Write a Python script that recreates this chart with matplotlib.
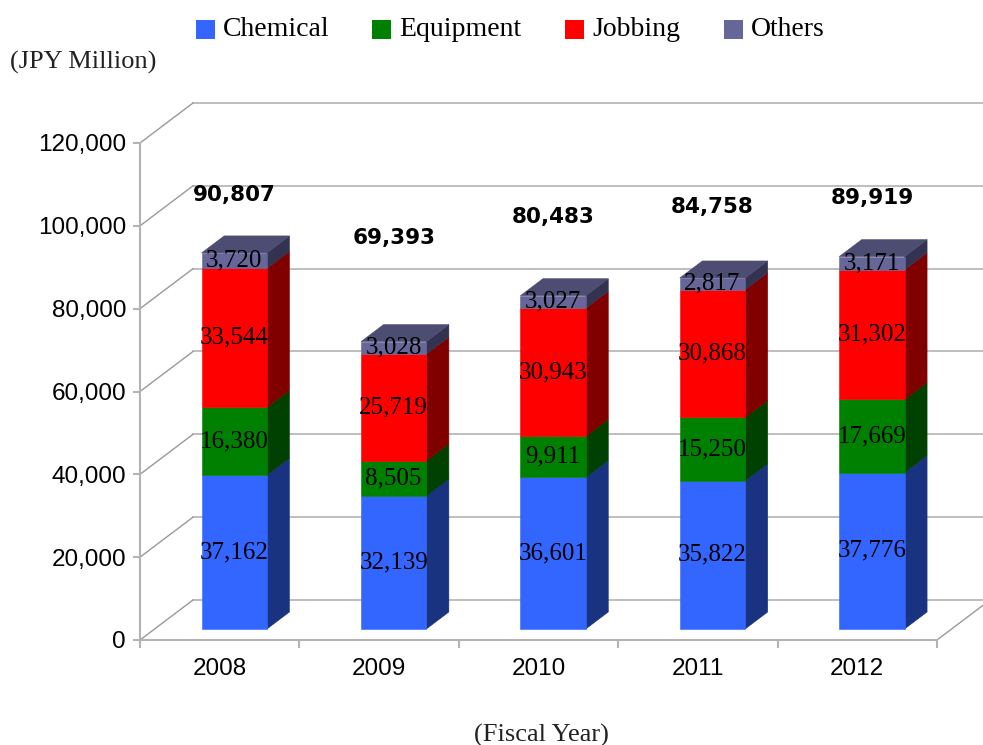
import numpy as np
import matplotlib.pyplot as plt
from matplotlib.patches import Rectangle, Polygon

# Data
years = ["2008", "2009", "2010", "2011", "2012"]
segments = ["Chemical", "Equipment", "Jobbing", "Others"]
chemical = [37162, 32139, 36601, 35822, 37776]
equipment = [16380, 8505, 9911, 15250, 17669]
jobbing = [33544, 25719, 30943, 30868, 31302]
others = [3720, 3028, 3027, 2817, 3171]
totals = [90807, 69393, 80483, 84758, 89919]

# where the bold total labels sit (value units on the front plane)
total_label_y = [107400, 97100, 102100, 104500, 106700]

front_colors = ["#3366FF", "#008000", "#FF0000", "#666699"]
side_colors = ["#1A3380", "#004000", "#800000", "#333351"]
top_color = "#4D4D73"
grid_color = "#b3b3b3"

SERIF = "Liberation Serif"
SANS = "Liberation Sans"

fig = plt.figure(figsize=(9.83, 7.45), dpi=100)
W, H = 983, 745
ax = fig.add_axes([140 / W, (H - 640) / H, 797 / W, 497 / H])
ax.set_xlim(0, 5)
ax.set_ylim(0, 120000)

# pseudo 3D depth (full wall depth and where the bars sit)
DX, DY = 0.3325, 9658
f0, f1 = 0.275, 0.70
bw = 0.41

# back wall + left wall gridlines
for v in range(0, 120001, 20000):
    ax.plot([DX, 5 + DX], [v + DY, v + DY], color=grid_color, lw=1.2,
            clip_on=False, zorder=1)
    ax.plot([0, DX], [v, v + DY], color="#999999", lw=1.0,
            clip_on=False, zorder=1)
# floor right edge
ax.plot([5, 5 + DX], [0, DY], color="#999999", lw=1.0, clip_on=False, zorder=1)

# stacked bars
data = np.array([chemical, equipment, jobbing, others])
for i in range(len(years)):
    base = 0
    xl = i + 0.5 - bw / 2 + f0 * DX
    xr = xl + bw
    ddx, ddy = (f1 - f0) * DX, (f1 - f0) * DY
    for k in range(len(segments)):
        v = data[k, i]
        y0 = base + f0 * DY
        y1 = y0 + v
        # side first, then front over it so the seam stays clean
        ax.add_patch(Polygon([(xr, y0), (xr + ddx, y0 + ddy),
                              (xr + ddx, y1 + ddy), (xr, y1)],
                             closed=True, facecolor=side_colors[k],
                             edgecolor=side_colors[k], lw=0.4,
                             clip_on=False, zorder=3))
        if k == len(segments) - 1:
            ax.add_patch(Polygon([(xl, y1), (xr, y1), (xr + ddx, y1 + ddy),
                                  (xl + ddx, y1 + ddy)], closed=True,
                                 facecolor=top_color, edgecolor=top_color,
                                 lw=0.4, clip_on=False, zorder=3))
        ax.add_patch(Rectangle((xl, y0), bw, v, facecolor=front_colors[k],
                               edgecolor=front_colors[k], lw=0.4,
                               clip_on=False, zorder=3.5))
        ax.text((xl + xr) / 2, (y0 + y1) / 2, f"{v:,}", ha="center",
                va="center", fontsize=18, family=SERIF, color="black",
                zorder=5)
        base += v
    ax.text((xl + xr) / 2, total_label_y[i], f"{totals[i]:,}", ha="center",
            va="center", fontsize=15.5, family="DejaVu Sans",
            fontweight="bold", color="black", zorder=5)

# axes styling
for s in ["top", "right"]:
    ax.spines[s].set_visible(False)
ax.spines["left"].set_color(grid_color)
ax.spines["bottom"].set_color(grid_color)
ax.spines["left"].set_linewidth(1.5)
ax.spines["bottom"].set_linewidth(1.5)
ax.set_yticks(range(0, 120001, 20000))
ax.set_yticklabels([f"{v:,}" for v in range(0, 120001, 20000)],
                   family=SANS, fontsize=17.5)
ax.tick_params(axis="y", length=5, width=1.5, color=grid_color, pad=5)
ax.set_xticks(range(0, 6))
ax.set_xticklabels([])
ax.set_xticks(np.arange(len(years)) + 0.5, minor=True)
ax.set_xticklabels(years, minor=True, family=SANS, fontsize=17.5)
ax.tick_params(axis="x", which="major", length=6, width=1.5, color=grid_color)
ax.tick_params(axis="x", which="minor", length=0, pad=13)
ax.set_facecolor("none")

# legend drawn by hand
leg_x = [196, 372, 565, 724]
for k, name in enumerate(segments):
    fig.patches.append(Rectangle((leg_x[k] / W, (H - 39) / H), 19 / W, 19 / H,
                                 facecolor=front_colors[k], edgecolor="none",
                                 transform=fig.transFigure))
    fig.text((leg_x[k] + 27) / W, (H - 29) / H, name, ha="left",
             va="center", fontsize=20, family=SERIF, color="black")

fig.text(10 / W, (H - 62) / H, "(JPY Million)", ha="left", va="center",
         fontsize=19, family=SERIF, color="#222222")
fig.text(541 / W, (H - 735) / H, "(Fiscal Year)", ha="center", va="center",
         fontsize=19, family=SERIF, color="#222222")

fig.savefig("out.png", dpi=100)
